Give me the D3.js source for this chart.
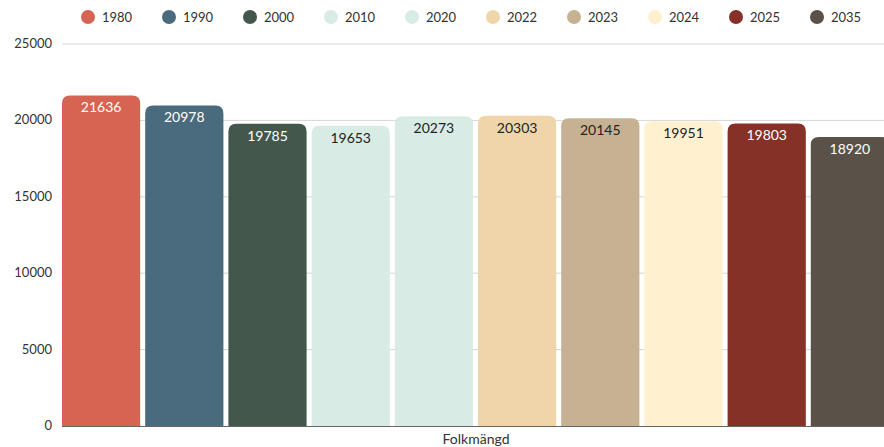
<!DOCTYPE html>
<html><head><meta charset="utf-8">
<script src="https://cdn.jsdelivr.net/npm/d3@7"></script>
<style>body{margin:0;background:#fff;} text{font-family:Lato, "Open Sans", sans-serif;}</style>
</head><body>
<svg id="c" width="884" height="447"></svg>
<script>
const years = ["1980","1990","2000","2010","2020","2022","2023","2024","2025","2035"];
const values = [21636,20978,19785,19653,20273,20303,20145,19951,19803,18920];
const colors = ["#d66453","#4a6a7d","#44574d","#d9ebe5","#d9ebe5","#f1d5aa","#c6b292","#fff1d0","#853128","#5a5249"];
const labelColors = ["#fff","#fff","#fff","#222","#222","#222","#222","#222","#fff","#fff"];
const yTicks = [0,5000,10000,15000,20000,25000];
const xLabel = "Folkmängd";

const svg = d3.select("#c");
const y = d3.scaleLinear().domain([0,25000]).range([426,44]);
const x = d3.scaleBand().domain(years).range([62,889]).paddingInner(0.06).paddingOuter(0);

// grid
svg.append("g").selectAll("line").data(yTicks.filter(d=>d>0)).join("line")
  .attr("x1",62).attr("x2",884).attr("y1",d=>y(d)).attr("y2",d=>y(d))
  .attr("stroke","#d6d6d6").attr("stroke-width",1);
svg.append("g").selectAll("text").data(yTicks).join("text")
  .attr("x",52).attr("y",d=>y(d)+4).attr("text-anchor","end")
  .attr("font-size",13).attr("fill","#333").text(d=>d);

// bars with rounded top
const r = 8;
function barPath(x0,w,yt,yb){
  return `M${x0},${yb}V${yt+r}Q${x0},${yt} ${x0+r},${yt}H${x0+w-r}Q${x0+w},${yt} ${x0+w},${yt+r}V${yb}Z`;
}
svg.append("g").selectAll("path").data(values).join("path")
  .attr("d",(d,i)=>barPath(x(years[i]),x.bandwidth(),y(d),y(0)))
  .attr("fill",(d,i)=>colors[i]);
svg.append("line").attr("x1",62).attr("x2",884).attr("y1",426.5).attr("y2",426.5).attr("stroke","#666").attr("stroke-width",1).lower();

svg.append("g").selectAll("text").data(values).join("text")
  .attr("x",(d,i)=>x(years[i])+x.bandwidth()/2).attr("y",d=>y(d)+17)
  .attr("text-anchor","middle").attr("font-size",14).attr("fill",(d,i)=>labelColors[i]).text(d=>d);

svg.append("text").attr("x",476).attr("y",444).attr("text-anchor","middle")
  .attr("font-size",14).attr("fill","#333").text(xLabel);

// legend
const lg = svg.append("g").selectAll("g").data(years).join("g")
  .attr("transform",(d,i)=>`translate(${88+i*81},17)`);
lg.append("circle").attr("r",7).attr("fill",(d,i)=>colors[i]);
lg.append("text").attr("x",14).attr("y",5).attr("font-size",13).attr("fill","#333").text(d=>d);
</script>
</body></html>
